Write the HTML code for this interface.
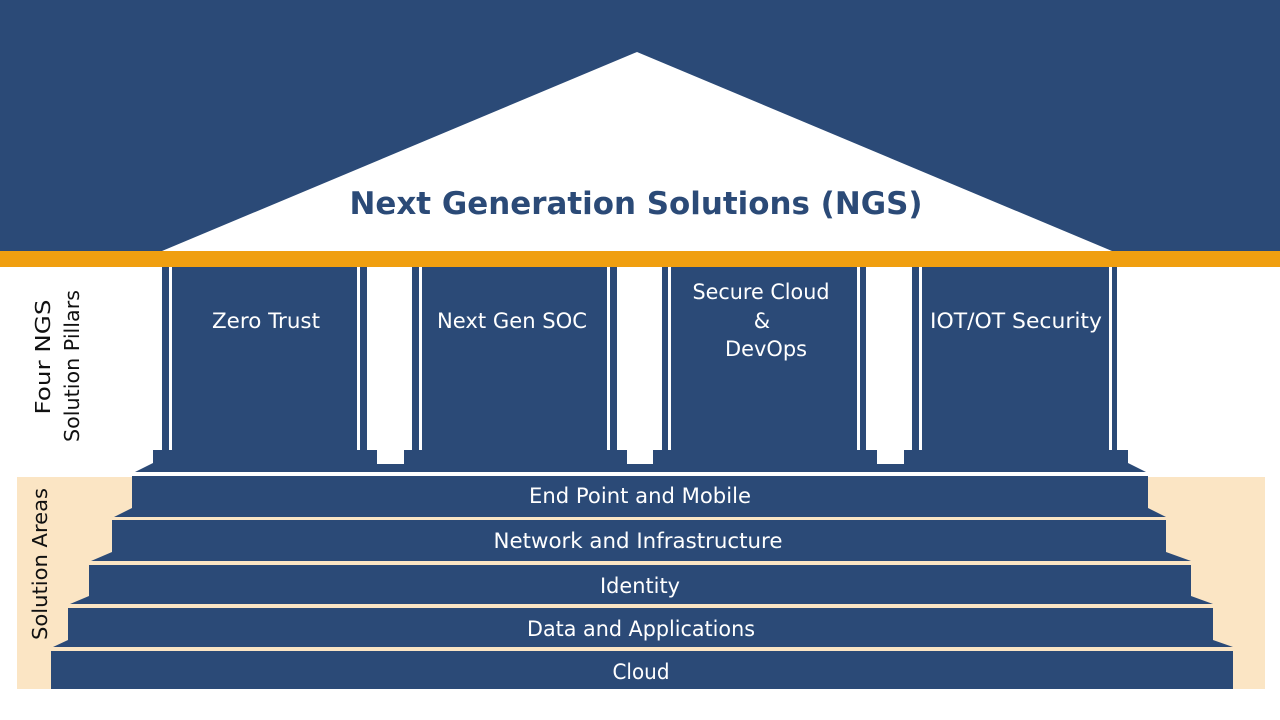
<!DOCTYPE html>
<html><head><meta charset="utf-8"><style>
html,body{margin:0;padding:0;background:#fff;}
svg{display:block;}
text{font-family:"DejaVu Sans","Liberation Sans",sans-serif;}
</style></head><body>
<svg width="1280" height="720" viewBox="0 0 1280 720" xmlns="http://www.w3.org/2000/svg">
<rect x="0" y="0" width="1280" height="720" fill="#fff"/>
<rect x="0" y="0" width="1280" height="251" fill="#2b4a77"/>
<polygon points="637,52 162,251 1112,251" fill="#fff"/>
<text x="636" y="214" text-anchor="middle" font-size="31" font-weight="bold" fill="#2b4a77" textLength="573" lengthAdjust="spacingAndGlyphs">Next Generation Solutions (NGS)</text>
<rect x="0" y="251" width="1280" height="16" fill="#f09f10"/>
<rect x="17" y="477" width="1248" height="212" fill="#fbe5c4"/>
<g fill="#2b4a77">
 <rect x="162" y="267" width="7" height="183"/><rect x="172" y="267" width="185" height="183"/><rect x="360" y="267" width="7" height="183"/>
 <rect x="412" y="267" width="7" height="183"/><rect x="422" y="267" width="185" height="183"/><rect x="610" y="267" width="7" height="183"/>
 <rect x="662" y="267" width="6" height="183"/><rect x="671" y="267" width="186" height="183"/><rect x="860" y="267" width="6" height="183"/>
 <rect x="912" y="267" width="7" height="183"/><rect x="922" y="267" width="187" height="183"/><rect x="1112" y="267" width="5" height="183"/>
 <polygon points="153,450 1128,450 1128,463 1146,472 135,472 153,463"/>
 <polygon points="132,476 1148,476 1148,508 1166,517 114,517 132,508"/>
 <polygon points="112,520 1166,520 1166,552 1191,561 91,561 112,552"/>
 <polygon points="89,565 1191,565 1191,596 1213,604 70,604 89,596"/>
 <polygon points="68,608 1213,608 1213,640 1233,647 53,647 68,640"/>
 <rect x="51" y="651" width="1182" height="38"/>
</g>
<g fill="#fff">
 <rect x="377" y="450" width="27" height="14"/><rect x="627" y="450" width="26" height="14"/><rect x="877" y="450" width="27" height="14"/>
</g>
<g fill="#fff" font-size="21" text-anchor="middle">
 <text x="266" y="328" textLength="108" lengthAdjust="spacingAndGlyphs">Zero Trust</text>
 <text x="512" y="328" textLength="150" lengthAdjust="spacingAndGlyphs">Next Gen SOC</text>
 <text x="761" y="299" textLength="137" lengthAdjust="spacingAndGlyphs">Secure Cloud</text>
 <text x="762" y="328">&amp;</text>
 <text x="766" y="356" textLength="82" lengthAdjust="spacingAndGlyphs">DevOps</text>
 <text x="1016" y="328" textLength="172" lengthAdjust="spacingAndGlyphs">IOT/OT Security</text>
 <text x="640" y="503" textLength="222" lengthAdjust="spacingAndGlyphs">End Point and Mobile</text>
 <text x="638" y="548" textLength="289" lengthAdjust="spacingAndGlyphs">Network and Infrastructure</text>
 <text x="640" y="593" textLength="80" lengthAdjust="spacingAndGlyphs">Identity</text>
 <text x="641" y="636" textLength="228" lengthAdjust="spacingAndGlyphs">Data and Applications</text>
 <text x="641" y="679" textLength="57" lengthAdjust="spacingAndGlyphs">Cloud</text>
</g>
<g fill="#111" font-size="20" text-anchor="middle">
 <text transform="translate(50,357) rotate(-90)" textLength="115" lengthAdjust="spacingAndGlyphs">Four NGS</text>
 <text transform="translate(79,366) rotate(-90)" textLength="152" lengthAdjust="spacingAndGlyphs">Solution Pillars</text>
 <text transform="translate(47,564) rotate(-90)" textLength="152" lengthAdjust="spacingAndGlyphs">Solution Areas</text>
</g>
</svg>
</body></html>
